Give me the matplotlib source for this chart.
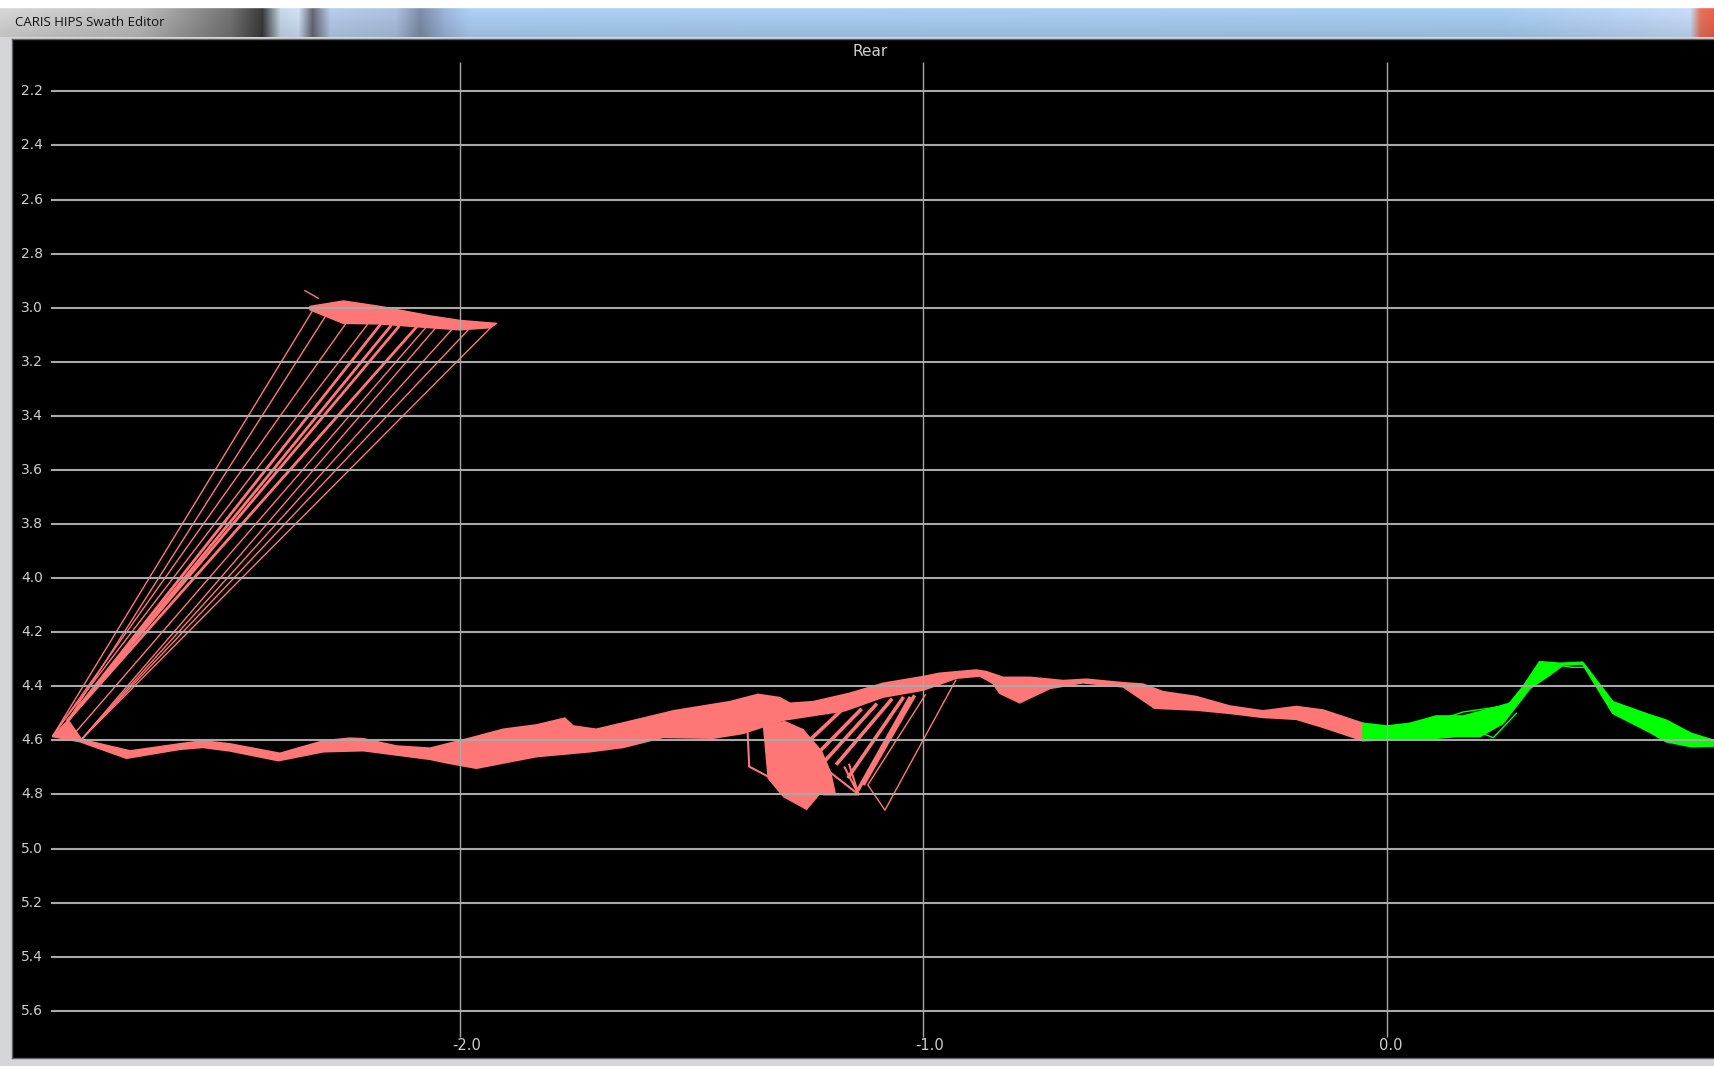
"""
CARIS HIPS Swath Editor - 'Rear' profile view.
Swath band (upper / lower edge of the ping cloud), spike fan and the
noisy patch near -1.2, drawn on a black editor canvas.
"""
import numpy as np
import matplotlib.pyplot as plt

W, H = 1715, 1066

# ---------------------------------------------------------------- data -----
x_ticks = [-2.0, -1.0, 0.0]
x_labels = ["-2.0", "-1.0", "0.0"]
depth_ticks = [2.2, 2.4, 2.6, 2.8, 3.0, 3.2, 3.4, 3.6, 3.8, 4.0,
               4.2, 4.4, 4.6, 4.8, 5.0, 5.2, 5.4, 5.6]

# salmon band (across-track -> depth), top edge and bottom edge
red_top_x = [-2.879, -2.820, -2.712, -2.605, -2.555, -2.497, -2.389, -2.295,
             -2.238, -2.209, -2.137, -2.065, -1.979, -1.907, -1.835, -1.774,
             -1.756, -1.706, -1.605, -1.540, -1.418, -1.357, -1.310, -1.288,
             -1.238, -1.159, -1.087, -1.000, -0.965, -0.886, -0.864, -0.828,
             -0.770, -0.698, -0.648, -0.569, -0.526, -0.483, -0.411, -0.339,
             -0.267, -0.195, -0.137, -0.051]
red_top_d = [4.583, 4.596, 4.639, 4.613, 4.602, 4.613, 4.648, 4.602,
             4.592, 4.594, 4.621, 4.629, 4.592, 4.559, 4.543, 4.518,
             4.547, 4.559, 4.518, 4.491, 4.457, 4.430, 4.442, 4.463,
             4.457, 4.426, 4.389, 4.364, 4.352, 4.340, 4.346, 4.367,
             4.367, 4.379, 4.374, 4.387, 4.392, 4.420, 4.438, 4.473,
             4.491, 4.475, 4.488, 4.537]
red_bot_x = [-2.879, -2.820, -2.720, -2.605, -2.555, -2.497, -2.392, -2.295,
             -2.209, -2.137, -2.065, -2.029, -1.965, -1.835, -1.720, -1.648,
             -1.562, -1.454, -1.389, -1.302, -1.169, -1.087, -1.000, -0.929,
             -0.878, -0.850, -0.835, -0.792, -0.727, -0.656, -0.569, -0.501,
             -0.411, -0.339, -0.267, -0.195, -0.137, -0.051]
red_bot_d = [4.586, 4.605, 4.666, 4.633, 4.626, 4.639, 4.675, 4.642,
             4.638, 4.654, 4.670, 4.683, 4.703, 4.660, 4.642, 4.626,
             4.589, 4.592, 4.574, 4.525, 4.490, 4.440, 4.414, 4.370,
             4.362, 4.389, 4.426, 4.461, 4.408, 4.387, 4.402, 4.481,
             4.488, 4.500, 4.515, 4.522, 4.552, 4.601]

# green (accepted) band
grn_top_x = [-0.051, 0.000, 0.050, 0.107, 0.165, 0.229, 0.265, 0.294,
             0.330, 0.373, 0.423, 0.488, 0.568, 0.603, 0.657, 0.708]
grn_top_d = [4.537, 4.547, 4.537, 4.510, 4.510, 4.481, 4.463, 4.402,
             4.309, 4.315, 4.311, 4.457, 4.506, 4.525, 4.574, 4.601]
grn_bot_x = [-0.051, 0.000, 0.093, 0.150, 0.201, 0.251, 0.309, 0.352,
             0.381, 0.423, 0.488, 0.568, 0.603, 0.657, 0.708]
grn_bot_d = [4.601, 4.598, 4.594, 4.586, 4.586, 4.537, 4.408, 4.358,
             4.321, 4.318, 4.500, 4.570, 4.605, 4.623, 4.621]
# a few stray green pings
gline_x = [[0.05, 0.165, 0.265], [0.10, 0.20, 0.23, 0.28], [0.33, 0.40, 0.43]]
gline_d = [[4.560, 4.495, 4.470], [4.590, 4.570, 4.590, 4.500], [4.310, 4.330, 4.330]]

# spike cluster up at ~3.0 m
clus_x = [-2.324, -2.252, -2.173, -2.065, -2.000, -1.921,
          -1.935, -2.000, -2.065, -2.173, -2.252, -2.324]
clus_d = [2.995, 2.975, 2.995, 3.030, 3.047, 3.058,
          3.074, 3.082, 3.074, 3.060, 3.058, 3.008]

# fan of beams from the cluster back to the nadir tip
fan_x0 = [-2.320, -2.335, -2.248, -2.290, -1.925, -1.982, -2.018, -2.054,
          -2.200, -2.075]
fan_d0 = [3.015, 2.937, 3.062, 3.030, 3.058, 3.081, 3.081, 3.077,
          3.062, 3.075]
fan_x1 = [-2.879, -2.306, -2.879, -2.846, -2.817, -2.817, -2.817, -2.817,
          -2.870, -2.830]
fan_d1 = [4.583, 2.965, 4.583, 4.525, 4.596, 4.596, 4.596, 4.596,
          4.560, 4.570]
fat_x0 = [-2.173, -2.150, -2.133, -2.094]
fat_d0 = [3.064, 3.068, 3.071, 3.071]
fat_x1 = [-2.846, -2.846, -2.846, -2.846]
fat_d1 = [4.525, 4.525, 4.525, 4.525]
tip_x = [-2.879, -2.846, -2.817]
tip_d = [4.583, 4.525, 4.596]

# noisy patch near -1.25
mass_x = [-1.345, -1.300, -1.260, -1.220, -1.200, -1.190, -1.223, -1.252,
          -1.302, -1.335]
mass_d = [4.550, 4.530, 4.560, 4.640, 4.720, 4.800, 4.796, 4.855,
          4.808, 4.740]
strp_x0 = [-1.260, -1.235, -1.211, -1.186, -1.161, -1.140, -1.128]
strp_d0 = [4.623, 4.660, 4.673, 4.685, 4.734, 4.780, 4.759]
strp_x1 = [-1.169, -1.136, -1.103, -1.070, -1.045, -1.030, -1.021]
strp_d1 = [4.476, 4.488, 4.469, 4.451, 4.445, 4.445, 4.439]
# outlines of the small triangles under the patch
tri_x = [[-1.380, -1.376, -1.335], [-1.200, -1.140, -1.215],
         [-1.170, -1.140, -1.160], [-1.330, -1.290, -1.300]]
tri_d = [[4.549, 4.697, 4.734], [4.720, 4.800, 4.800],
         [4.700, 4.800, 4.690], [4.560, 4.560, 4.640]]
vee_x = [-0.996, -1.120, -1.083, -0.930]
vee_d = [4.432, 4.765, 4.858, 4.377]

# ------------------------------------------------------------- figure ------
RED = "#ff7676"
GRN = "#00ff00"
GRID = "#a9a9a9"
TXT = "#cfcfcf"

fig = plt.figure(figsize=(W / 100, H / 100), dpi=100)
fig.patch.set_facecolor("#d4d6d9")

# window title bar
tb = fig.add_axes([0, 1 - 37 / H, 1, 30 / H])
cols = np.arange(W)
kx = [0, 140, 230, 262, 280, 298, 312, 330, 395, 420, 445, 470, 1500, 1690, 1700, 1715]
kr = [205, 180, 110, 55, 190, 200, 95, 175, 165, 120, 150, 165, 160, 190, 220, 225]
kg = [205, 180, 110, 55, 205, 215, 100, 195, 185, 135, 175, 198, 196, 210, 110, 90]
kb = [205, 180, 110, 55, 220, 235, 110, 225, 215, 160, 210, 235, 232, 238, 90, 70]
row = np.stack([np.interp(cols, kx, kr), np.interp(cols, kx, kg),
                np.interp(cols, kx, kb)], axis=-1) / 255.0
shade = np.linspace(1.06, 0.94, 30)[:, None, None]
tb.imshow(np.clip(row[None, :, :] * shade, 0, 1), aspect="auto",
          extent=(0, W, 30, 0))
tb.set_xlim(0, W); tb.set_ylim(30, 0); tb.axis("off")
tb.text(15, 15, "CARIS HIPS Swath Editor", fontsize=9.5, color="#111111",
        va="center", ha="left", family=["Open Sans", "DejaVu Sans"])
fig.patches.append(plt.Rectangle((0, 1 - 7 / H), 1, 7 / H, transform=fig.transFigure,
                                 color="white", zorder=0))

# editor canvas
px0, px1, py0, py1 = 12, 1715, 39, 1058
ax = fig.add_axes([px0 / W, 1 - py1 / H, (px1 - px0) / W, (py1 - py0) / H])
ax.set_facecolor("black")
ax.set_xlim(-2.9672, 0.7086)
ax.set_ylim(5.7747, 2.0062)
ax.set_xticks([]); ax.set_yticks([])
for s in ax.spines.values():
    s.set_color("#606060"); s.set_linewidth(1)

# swath bands
ax.fill(np.r_[red_top_x, red_bot_x[::-1]], np.r_[red_top_d, red_bot_d[::-1]],
        color=RED, lw=1.2, zorder=2)
ax.fill(np.r_[grn_top_x, grn_bot_x[::-1]], np.r_[grn_top_d, grn_bot_d[::-1]],
        color=GRN, lw=1.2, zorder=2)
for gx, gd in zip(gline_x, gline_d):
    ax.plot(gx, gd, color=GRN, lw=1.0, zorder=2)

# spikes
ax.fill(clus_x, clus_d, color=RED, lw=1, zorder=2)
ax.fill(tip_x, tip_d, color=RED, lw=1, zorder=2)
for a, b, c, d in zip(fan_x0, fan_d0, fan_x1, fan_d1):
    ax.plot([a, c], [b, d], color=RED, lw=1.0, zorder=2)
for a, b, c, d in zip(fat_x0, fat_d0, fat_x1, fat_d1):
    ax.plot([a, c], [b, d], color=RED, lw=2.0, zorder=2)

ax.fill(mass_x, mass_d, color=RED, lw=1, zorder=2)
for a, b, c, d in zip(strp_x0, strp_d0, strp_x1, strp_d1):
    ax.plot([a, c], [b, d], color=RED, lw=2.6, zorder=2)
for tx, td in zip(tri_x, tri_d):
    ax.plot(tx, td, color=RED, lw=1.5, zorder=2)
ax.plot(vee_x, vee_d, color=RED, lw=1.0, zorder=2)

# grid (drawn over the soundings, like the editor)
ax.hlines(depth_ticks, -2.883, 0.7086, colors=GRID, lw=1.5, zorder=3)
ax.vlines(x_ticks, 2.0913, 5.696, colors=GRID, lw=1.0, zorder=3)

for d in depth_ticks:
    ax.text(-2.9477, d, f"{d:.1f}", color=TXT, fontsize=10, va="center",
            ha="left", zorder=4)
for xv, lab in zip(x_ticks, x_labels):
    ax.text(xv - 0.017, 5.727, lab, color=TXT, fontsize=10.5, va="center",
            ha="left", family=["Liberation Sans Narrow", "DejaVu Sans"], zorder=4)

fig.text(870 / W, 1 - 51 / H, "Rear", color=TXT, fontsize=11,
         ha="center", va="center")

fig.savefig("out.png", dpi=100, facecolor=fig.get_facecolor())
